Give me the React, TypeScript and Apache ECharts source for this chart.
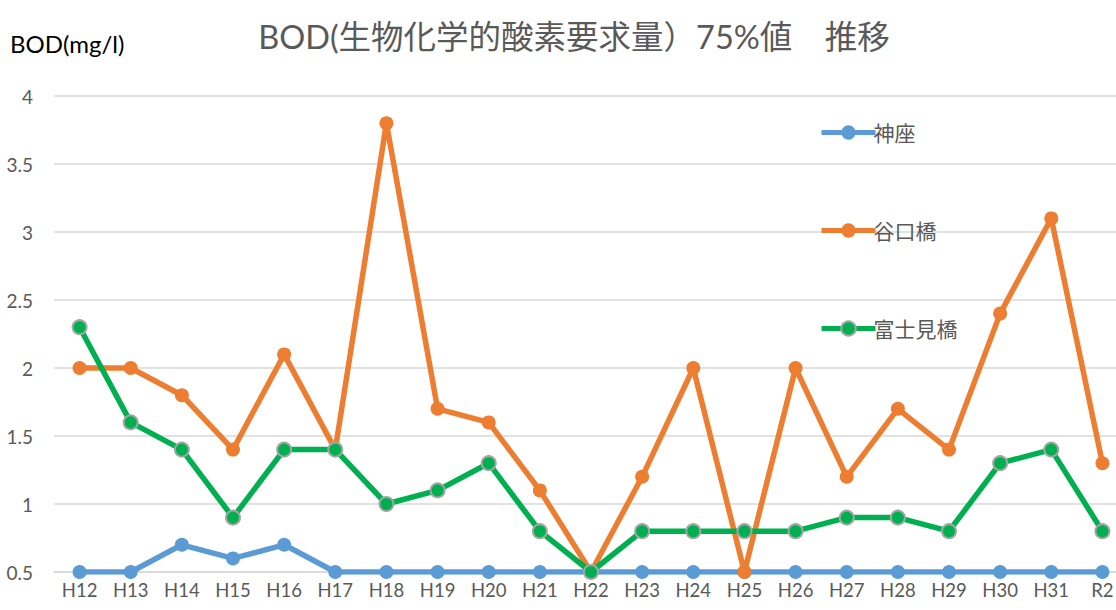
import React, { useEffect, useRef } from "react";
import * as echarts from "echarts";

const categories = ["H12","H13","H14","H15","H16","H17","H18","H19","H20","H21","H22","H23","H24","H25","H26","H27","H28","H29","H30","H31","R2"];
const kamikura = [0.5,0.5,0.7,0.6,0.7,0.5,0.5,0.5,0.5,0.5,0.5,0.5,0.5,0.5,0.5,0.5,0.5,0.5,0.5,0.5,0.5];
const taniguchi = [2.0,2.0,1.8,1.4,2.1,1.4,3.8,1.7,1.6,1.1,0.5,1.2,2.0,0.5,2.0,1.2,1.7,1.4,2.4,3.1,1.3];
const fujimi = [2.3,1.6,1.4,0.9,1.4,1.4,1.0,1.1,1.3,0.8,0.5,0.8,0.8,0.8,0.8,0.9,0.9,0.8,1.3,1.4,0.8];
const seriesNames = ["神座","谷口橋","富士見橋"];

const FONT = "Lato, 'Noto Sans CJK JP', sans-serif";

export default function App() {
  const ref = useRef<HTMLDivElement>(null);
  useEffect(() => {
    if (!ref.current) return;
    const chart = echarts.init(ref.current, null, { renderer: "svg" });
    chart.setOption({
      animation: false,
      backgroundColor: "#ffffff",
      title: [
        {
          text: "BOD(生物化学的酸素要求量）75%値　推移",
          left: 574,
          textAlign: "center",
          top: 20,
          padding: 0,
          textStyle: { fontFamily: FONT, fontSize: 32.5, fontWeight: "normal", color: "#595959" },
        },
        {
          text: "BOD(mg/l)",
          left: 10,
          top: 31,
          padding: 0,
          textStyle: { fontFamily: FONT, fontSize: 24, fontWeight: "normal", color: "#000000" },
        },
      ],
      legend: {
        orient: "vertical",
        left: 814,
        top: 117,
        itemWidth: 54,
        itemHeight: 18,
        itemGap: 77,
        lineStyle: { width: 5 },
        textStyle: { fontFamily: FONT, fontSize: 21, color: "#595959", padding: [0, 0, 0, -7] },
        data: seriesNames,
      },
      grid: { left: 54, top: 96, right: 0, bottom: 38, containLabel: false },
      xAxis: {
        type: "category",
        data: categories,
        boundaryGap: true,
        axisLine: { lineStyle: { color: "#d9d9d9", width: 1.5 } },
        axisTick: { show: false },
        axisLabel: { fontFamily: FONT, fontSize: 18.5, color: "#595959", margin: 9 },
      },
      yAxis: {
        type: "value",
        min: 0.5,
        max: 4,
        interval: 0.5,
        axisLine: { show: false },
        axisTick: { show: false },
        splitLine: { lineStyle: { color: "#d9d9d9", width: 1.5 } },
        axisLabel: { fontFamily: FONT, fontSize: 19, color: "#595959", margin: 21 },
      },
      series: [
        {
          name: seriesNames[0],
          type: "line",
          data: kamikura,
          symbol: "circle",
          symbolSize: 14,
          lineStyle: { width: 5.5, color: "#5B9BD5" },
          itemStyle: { color: "#5B9BD5" },
          z: 2,
        },
        {
          name: seriesNames[1],
          type: "line",
          data: taniguchi,
          symbol: "circle",
          symbolSize: 14,
          lineStyle: { width: 5.5, color: "#ED7D31" },
          itemStyle: { color: "#ED7D31" },
          z: 3,
        },
        {
          name: seriesNames[2],
          type: "line",
          data: fujimi,
          symbol: "circle",
          symbolSize: 14,
          lineStyle: { width: 5.5, color: "#00B050" },
          itemStyle: { color: "#00B050", borderColor: "#A5A5A5", borderWidth: 2 },
          z: 4,
        },
      ],
    });
    return () => chart.dispose();
  }, []);
  return (
    <div
      ref={ref}
      style={{ position: "fixed", left: 0, top: 0, width: 1128, height: 610 }}
    />
  );
}
